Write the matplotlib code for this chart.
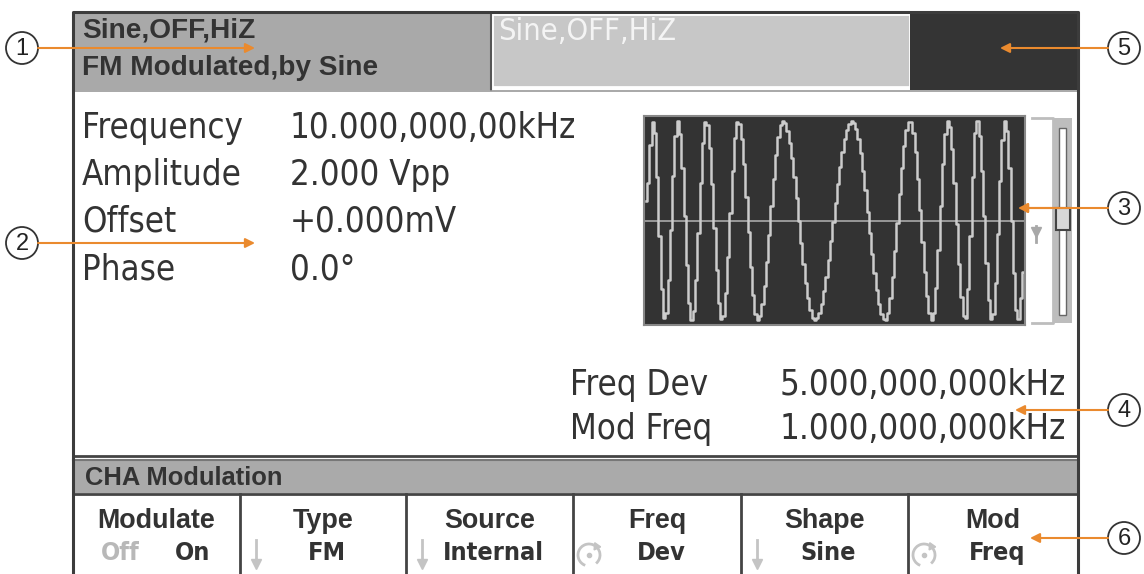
import os
import matplotlib
matplotlib.use("Agg")
import matplotlib.pyplot as plt
import matplotlib.patches as mpatches
from matplotlib import font_manager as fm
import numpy as np

# ---- data ----
tab_left = ["Sine,OFF,HiZ", "FM Modulated,by Sine"]
tab_right = "Sine,OFF,HiZ"
param_names = ["Frequency", "Amplitude", "Offset", "Phase"]
param_values = ["10.000,000,00kHz", "2.000 Vpp", "+0.000mV", "0.0°"]
mod_names = ["Freq Dev", "Mod Freq"]
mod_values = ["5.000,000,000kHz", "1.000,000,000kHz"]
menu_title = "CHA Modulation"
softkey_top = ["Modulate", "Type", "Source", "Freq", "Shape", "Mod"]
softkey_bottom = ["", "FM", "Internal", "Dev", "Sine", "Freq"]
softkey_icon = [None, "down", "down", "knob", "down", "knob"]
callouts = ["1", "2", "3", "4", "5", "6"]

# waveform extrema (time in us over the 1 ms preview, normalised level)
wave_t = [5, 24, 55, 89, 126, 163, 205, 247, 299, 365, 449, 546, 633, 698,
          756, 798, 843, 874, 913, 948, 982, 997]
wave_v = [0.2, 1, -1, 1, -1, 1, -1, 1, -1, 1, -1, 1, -1, 1,
          -1, 1, -1, 1, -1, 1, -1, -0.5]

# ---- fonts: a narrow face for the instrument digits ----
paths = fm.findSystemFonts()
def pick(cands):
    low = {os.path.basename(p).lower(): p for p in paths}
    for c in cands:
        if c.lower() in low:
            return low[c.lower()]
    return None

narrow_file = pick(['LiberationSansNarrow-Regular.ttf', 'DejaVuSansCondensed.ttf',
                    'NotoSans-Condensed.ttf', 'RobotoCondensed-Regular.ttf',
                    'OpenSans-CondensedRegular.ttf', 'OpenSans_Condensed-Regular.ttf'])
narrow_bold_file = pick(['LiberationSansNarrow-Bold.ttf', 'DejaVuSansCondensed-Bold.ttf',
                         'NotoSans-CondensedBold.ttf', 'RobotoCondensed-Bold.ttf',
                         'OpenSans-CondensedBold.ttf', 'OpenSans_Condensed-Bold.ttf'])

def narrow(size, bold=False):
    f = narrow_bold_file if bold else narrow_file
    if f:
        return fm.FontProperties(fname=f, size=size)
    return fm.FontProperties(family='DejaVu Sans', weight='bold' if bold else 'normal',
                             stretch='condensed', size=size)

def boldface(size):
    return fm.FontProperties(family=['Liberation Sans', 'DejaVu Sans'], weight='bold', size=size)

DARK = '#333333'
ORANGE = '#ea8a2e'

W, H = 1144, 574
fig = plt.figure(figsize=(W / 100, H / 100), dpi=100)
ax = fig.add_axes([0, 0, 1, 1])
ax.set_xlim(0, W)
ax.set_ylim(H, 0)
ax.axis('off')
renderer = fig.canvas.get_renderer()


def fit_size(s, fp_func, target_w):
    t = ax.text(0, 0, s, fontproperties=fp_func(20))
    w = t.get_window_extent(renderer).width
    t.remove()
    return 20 * target_w / w


def rect(x0, y0, x1, y1, fc, ec='none', lw=0, z=1):
    ax.add_patch(mpatches.Rectangle((x0, y0), x1 - x0, y1 - y0, fc=fc, ec=ec, lw=lw, zorder=z))


# screen background
rect(73, 12, 1078, 574, 'white')

# status tabs
rect(74, 13, 491, 90, '#a9a9a9')
rect(492, 14, 910, 87, '#c7c7c7', ec='white', lw=2)
rect(910, 13, 1078, 90, '#343434')
ax.plot([491, 491], [13, 90], color='#555555', lw=1.5, zorder=2)
ax.plot([74, 1078], [91, 91], color='#9a9a9a', lw=1.2, zorder=2)
sz_tab = fit_size(tab_left[1], boldface, 296)
ax.text(82, 30, tab_left[0], fontproperties=boldface(sz_tab), color=DARK, va='center')
ax.text(82, 68, tab_left[1], fontproperties=boldface(sz_tab), color=DARK, va='center')
sz_tab2 = fit_size(tab_right, narrow, 178)
ax.text(498, 31, tab_right, fontproperties=narrow(sz_tab2), color='#f4f4f4', va='center')

# parameters
sz_par = fit_size(param_values[0], narrow, 285)
for i, (n, v) in enumerate(zip(param_names, param_values)):
    y = 128 + i * 47
    ax.text(82, y, n, fontproperties=narrow(sz_par), color=DARK, va='center')
    ax.text(290, y, v, fontproperties=narrow(sz_par), color=DARK, va='center')

for i, (n, v) in enumerate(zip(mod_names, mod_values)):
    y = 385 + i * 44
    ax.text(570, y, n, fontproperties=narrow(sz_par), color=DARK, va='center')
    ax.text(1066, y, v, fontproperties=narrow(sz_par), color=DARK, va='center', ha='right')

# scroll bar next to the preview
ax.plot([1032, 1053, 1053, 1032], [118, 118, 323, 323], color='#bdbdbd', lw=2, zorder=2)
rect(1053, 118, 1072, 323, '#bdbdbd', z=2)
rect(1059, 128, 1066, 315, 'white', ec='#666666', lw=1, z=3)
rect(1056, 208, 1070, 230, '#d8d8d8', ec='#444444', lw=1.5, z=4)
ax.plot([1036], [232], marker='v', ms=7, color='#a8a8a8', zorder=3)
ax.plot([1036, 1036], [226, 242], color='#a8a8a8', lw=2, zorder=3)

# bottom menu
ax.plot([73, 1078], [456, 456], color='#444444', lw=2, zorder=3)
ax.plot([73, 1078], [460, 460], color='#777777', lw=1.5, zorder=3)
rect(74, 461, 1077, 493, '#aaaaaa', z=2)
ax.plot([73, 1078], [494, 494], color='#444444', lw=2, zorder=3)
sz_menu = fit_size(menu_title, boldface, 197)
ax.text(85, 478, menu_title, fontproperties=boldface(sz_menu), color=DARK, va='center')

sz_key = fit_size(softkey_top[0], boldface, 118)
sz_key2 = fit_size(softkey_bottom[2], lambda s: narrow(s, True), 101)
seps = [73, 240, 406, 573, 741, 908, 1078]
for x in seps[1:-1]:
    ax.plot([x, x], [494, 574], color='#444444', lw=2, zorder=3)
for i in range(6):
    cx = (seps[i] + seps[i + 1]) / 2
    ax.text(cx, 521, softkey_top[i], fontproperties=boldface(sz_key),
            color=DARK, ha='center', va='center')
    if i == 0:
        ax.text(cx - 36, 553, "Off", fontproperties=narrow(sz_key2, True),
                color='#b8b8b8', ha='center', va='center')
        ax.text(cx + 36, 553, "On", fontproperties=narrow(sz_key2, True),
                color=DARK, ha='center', va='center')
    else:
        ax.text(cx + 4, 553, softkey_bottom[i], fontproperties=narrow(sz_key2, True),
                color=DARK, ha='center', va='center')
    ix = seps[i] + 16
    if softkey_icon[i] == 'down':
        ax.plot([ix, ix], [540, 566], color='#c4c4c4', lw=2, zorder=3)
        ax.plot([ix], [564], marker='v', ms=7, color='#c4c4c4', zorder=3)
    elif softkey_icon[i] == 'knob':
        ax.add_patch(mpatches.Arc((ix, 555), 22, 22, theta1=-250, theta2=50, color='#c4c4c4', lw=2, zorder=3))
        ax.plot([ix + 7], [546], marker=(3, 0, 25), ms=6, color='#c4c4c4', zorder=3)
        ax.plot([ix], [555], marker='o', ms=3, color='#c4c4c4', zorder=3)

# screen frame
ax.plot([73, 73, 1078, 1078], [574, 12, 12, 574], color='#3c3c3c', lw=2.2, zorder=5)

# callouts
left_c = [(22, 48, 255), (22, 243, 255)]
right_c = [(1124, 208, 1018), (1124, 410, 1015), (1124, 48, 1000), (1124, 538, 1030)]
for (cx, cy, tx), lab in zip(left_c, callouts[:2]):
    ax.add_patch(mpatches.Circle((cx, cy), 16, fc='white', ec='#333333', lw=1.3, zorder=6))
    ax.text(cx, cy + 1, lab, fontsize=17, family='Liberation Sans', color='#222222',
            ha='center', va='center', zorder=7)
    ax.annotate('', xy=(tx, cy), xytext=(cx + 16, cy),
                arrowprops=dict(arrowstyle='-|>', color=ORANGE, lw=1.5, mutation_scale=14,
                                shrinkA=0, shrinkB=0), zorder=6)
for (cx, cy, tx), lab in zip(right_c, callouts[2:]):
    ax.add_patch(mpatches.Circle((cx, cy), 16, fc='white', ec='#333333', lw=1.3, zorder=6))
    ax.text(cx, cy + 1, lab, fontsize=17, family='Liberation Sans', color='#222222',
            ha='center', va='center', zorder=7)
    ax.annotate('', xy=(tx, cy), xytext=(cx - 16, cy),
                arrowprops=dict(arrowstyle='-|>', color=ORANGE, lw=1.5, mutation_scale=14,
                                shrinkA=0, shrinkB=0), zorder=8)

# waveform preview
wx0, wy0, wx1, wy1 = 644, 116, 1025, 325
wax = fig.add_axes([wx0 / W, 1 - wy1 / H, (wx1 - wx0) / W, (wy1 - wy0) / H])
wax.set_facecolor('#333333')
et = np.array(wave_t, dtype=float)
ev = np.array(wave_v, dtype=float)
ts = np.arange(et[0], et[-1], 6.0)
idx = np.clip(np.searchsorted(et, ts, side='right') - 1, 0, len(et) - 2)
frac = (ts - et[idx]) / (et[idx + 1] - et[idx])
vs = ev[idx] + (ev[idx + 1] - ev[idx]) * (1 - np.cos(np.pi * frac)) / 2
wax.axhline(0, color='#a0a0a0', lw=1.3)
wax.plot(ts, vs, drawstyle='steps-mid', color='#cccccc', lw=1.8)
wax.set_xlim(0, 1000)
wax.set_ylim(-1.05, 1.05)
wax.set_xticks([])
wax.set_yticks([])
for s in wax.spines.values():
    s.set_color('#888888')
    s.set_linewidth(1.5)

# orange arrow for callout 3 runs over the preview
ax3 = fig.add_axes([0, 0, 1, 1], facecolor='none')
ax3.set_xlim(0, W)
ax3.set_ylim(H, 0)
ax3.axis('off')
ax3.annotate('', xy=(1018, 208), xytext=(1060, 208),
             arrowprops=dict(arrowstyle='-|>', color=ORANGE, lw=1.5, mutation_scale=14,
                             shrinkA=0, shrinkB=0))

fig.savefig('out.png', dpi=100)
